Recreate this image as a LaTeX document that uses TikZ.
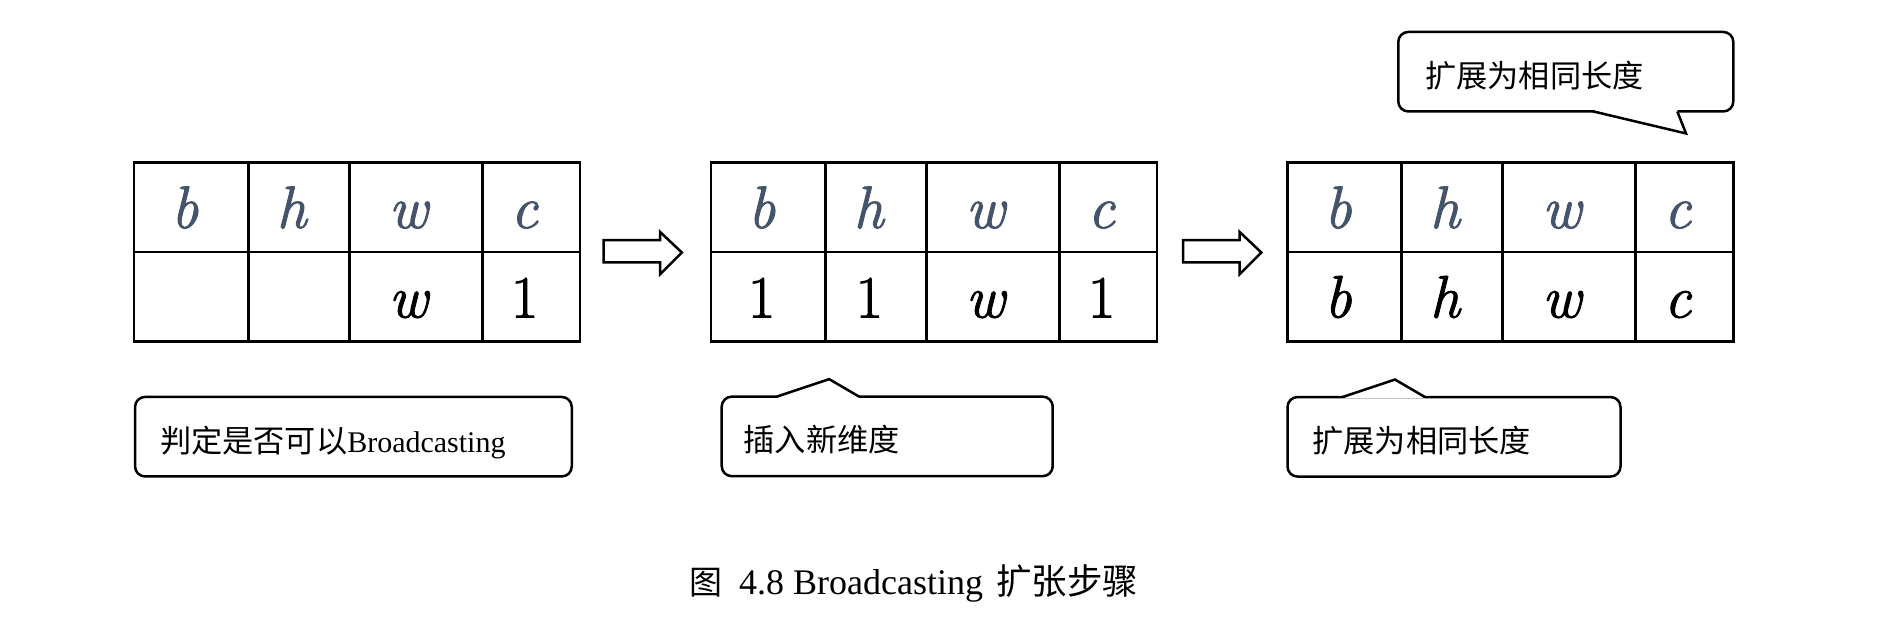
\documentclass[tikz,border=0pt]{standalone}
\usepackage{fontspec}
\setmainfont{Liberation Serif}
\newfontfamily\lmr{Latin Modern Roman}[FakeBold=1.5]
\newfontfamily\kai{Noto Sans CJK SC}
\newfontfamily\song{Noto Sans CJK SC}
\usetikzlibrary{calc}
\definecolor{hdrcol}{HTML}{44546A}
\tikzset{
  cell/.style={draw, line width=2.5pt, outer sep=0pt, inner sep=0pt,
    minimum height=89.5pt, text height=42pt, text depth=0pt,
    font=\lmr\fontsize{60}{72}\selectfont,
    execute at end node={\kern13pt}},
  hdrcell/.style={cell, text=hdrcol},
  barrow/.style={draw, line width=2.5pt, line join=miter, fill=white},
  callout/.style={draw, line width=2.5pt, rounded corners=10pt, align=left,
    minimum height=79.5pt, inner ysep=0pt, outer sep=0pt,
    text height=31pt, text depth=0pt,
    font=\fontsize{30}{36}\selectfont},
  ptr/.style={line width=2.5pt, line join=miter},
}
\newcommand\cjk[1]{{\kai\fontsize{31.2}{36}\selectfont #1}}
\newcommand\vv[1]{\textit{#1}}
\newcommand\mktable[6]{%
  \node[hdrcell, minimum width=114.3pt] (#1h1) at ({#2+57.15},207) {\vv{b}};
  \node[hdrcell, minimum width=101pt]   (#1h2) at ({#2+164.8},207) {\vv{h}};
  \node[hdrcell, minimum width=133pt]   (#1h3) at ({#2+281.8},207) {\vv{w}};
  \node[hdrcell, minimum width=97.7pt]  (#1h4) at ({#2+397.15},207) {\vv{c}};
  \node[cell, minimum width=114.3pt] (#1b1) at ({#2+57.15},296.5) {#3};
  \node[cell, minimum width=101pt]   (#1b2) at ({#2+164.8},296.5) {#4};
  \node[cell, minimum width=133pt]   (#1b3) at ({#2+281.8},296.5) {#5};
  \node[cell, minimum width=97.7pt]  (#1b4) at ({#2+397.15},296.5) {#6};
}
\newcommand\blockarrow[2]{%
  \draw[barrow] ($(#1.south east)+(#2,-11.7)$) -- ++(56.7,0) -- ++(0,-8)
    -- ++(21.7,20.5) -- ++(-21.7,21.5) -- ++(0,-11.7) -- ++(-56.7,0) -- cycle;
}
\begin{document}
\begin{tikzpicture}[x=1pt, y=-1pt]
\useasboundingbox (0,0) rectangle (1892,621);

% tables
\mktable{t1}{134}{}{}{\vv{w}}{1}
\mktable{t2}{711}{1}{1}{\vv{w}}{1}
\mktable{t3}{1287.3}{\vv{b}}{\vv{h}}{\vv{w}}{\vv{c}}

% block arrows
\blockarrow{t1h4}{23.5}
\blockarrow{t2h4}{26}

% callouts
\node[callout, inner xsep=25pt, text width=386.7pt] (c1) at (353.4,436.7)
  {\cjk{判定是否可以}Broadcasting};
\node[callout, inner xsep=22pt, text width=287pt] (c2) at (887.2,436.4)
  {\cjk{插入新维度}};
\node[callout, inner xsep=25pt, text width=283pt] (c3) at (1454,436.8)
  {\cjk{扩展为相同长度}};
\node[callout, inner xsep=27pt, text width=281pt] (c4) at (1565.8,71.7)
  {\cjk{扩展为相同长度}};

% pointers of callouts
\foreach \c in {c2,c3}{
  \fill[white] ($(\c.north west)+(55,1.3)$) -- ($(\c.north west)+(107.5,-17.5)$)
     -- ($(\c.north west)+(137.5,1.3)$) -- cycle;
  \draw[ptr] ($(\c.north west)+(55,0)$) -- ($(\c.north west)+(107.5,-17.5)$)
     -- ($(\c.north west)+(137.5,0)$);
}
\fill[white] ($(c4.south west)+(195,-1.3)$) -- ($(c4.south west)+(287.7,22)$)
   -- ($(c4.south west)+(279,-1.3)$) -- cycle;
\draw[ptr] ($(c4.south west)+(195,0)$) -- ($(c4.south west)+(287.7,22)$)
   -- ($(c4.south west)+(279,0)$);

% caption
\node[anchor=base west, inner sep=0pt] (cap) at (689,594)
  {{\song\fontsize{33}{36}\selectfont 图}\hspace{17pt}{\fontsize{36}{40}\selectfont 4.8 Broadcasting}\hspace{13pt}{\song\fontsize{35.5}{40}\selectfont 扩张步骤}};
\end{tikzpicture}
\end{document}
